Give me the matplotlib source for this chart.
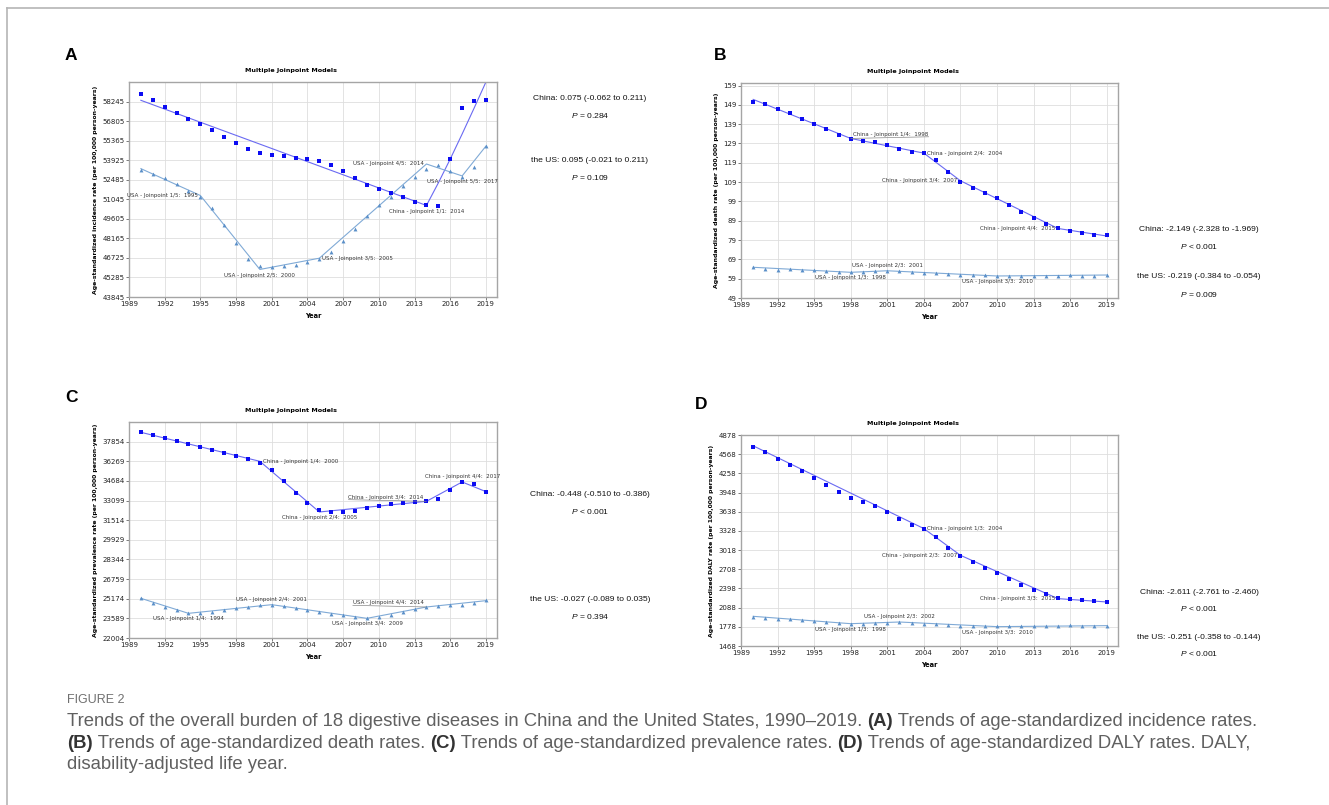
import matplotlib
matplotlib.use("Agg")
import matplotlib.pyplot as plt
from matplotlib.lines import Line2D

years = list(range(1990, 2020))

# ---- A: incidence
inc_china = [58833, 58367, 57853, 57412, 56972, 56604, 56163, 55673, 55184, 54767,
             54498, 54351, 54253, 54106, 54008, 53861, 53567, 53127, 52637, 52147,
             51853, 51535, 51192, 50849, 50604, 50531, 54033, 57829, 58294, 58416]
inc_usa = [53224, 52955, 52612, 52171, 51706, 51241, 50408, 49159, 47812, 46661,
           46098, 46024, 46098, 46221, 46417, 46661, 47151, 47959, 48890, 49845,
           50604, 51265, 52025, 52735, 53298, 53567, 53151, 52735, 53445, 54988]
inc_china_fit_x = [1990, 2014, 2015, 2016, 2017, 2018, 2019]
inc_china_fit = [58367, 50604, 52270, 54033, 55880, 57780, 59720]
inc_usa_fit_x = [1990, 1995, 2000, 2005, 2014, 2017, 2019]
inc_usa_fit = [53322, 51339, 45878, 46710, 53666, 52784, 54988]
inc_ticks = [43845, 45285, 46725, 48165, 49605, 51045, 52485, 53925, 55365, 56805, 58245]

# ---- B: death
dth_china = [150.4, 149.3, 146.9, 144.9, 141.8, 139.0, 136.4, 133.5, 131.3, 130.2,
             130.0, 128.0, 126.1, 124.7, 124.0, 120.6, 114.4, 109.3, 106.2, 103.1,
             100.6, 96.9, 93.5, 90.2, 87.4, 85.0, 83.8, 82.8, 81.8, 81.4]
dth_usa = [64.9, 64.0, 63.7, 63.8, 63.7, 63.5, 62.8, 62.4, 62.3, 62.6,
           62.8, 63.0, 63.0, 62.6, 62.1, 61.9, 61.4, 61.1, 60.9, 60.7,
           60.4, 60.4, 60.4, 60.4, 60.4, 60.6, 60.7, 60.4, 60.6, 60.7]
dth_china_fit_x = [1990, 1998, 2004, 2007, 2015, 2019]
dth_china_fit = [151.8, 131.6, 124.0, 109.7, 85.0, 81.1]
dth_usa_fit_x = [1990, 1998, 2001, 2010, 2019]
dth_usa_fit = [64.9, 62.3, 63.1, 60.4, 60.9]
dth_ticks = [49, 59, 69, 79, 89, 99, 109, 119, 129, 139, 149, 159]

# ---- C: prevalence
prv_china = [38607, 38365, 38123, 37881, 37666, 37450, 37208, 36966, 36724, 36428,
             36132, 35567, 34679, 33710, 32876, 32337, 32176, 32176, 32284, 32472,
             32687, 32849, 32929, 32983, 33037, 33226, 33979, 34598, 34410, 33818]
prv_usa = [25206, 24830, 24507, 24237, 24022, 24022, 24103, 24237, 24399, 24533,
           24641, 24668, 24560, 24399, 24237, 24103, 23968, 23834, 23699, 23619,
           23699, 23861, 24076, 24318, 24507, 24587, 24668, 24668, 24830, 25045]
prv_china_fit_x = [1990, 2000, 2005, 2014, 2017, 2019]
prv_china_fit = [38607, 36266, 32176, 33037, 34598, 33818]
prv_usa_fit_x = [1990, 1994, 2001, 2009, 2014, 2019]
prv_usa_fit = [25206, 23995, 24695, 23592, 24507, 25018]
prv_ticks = [22004, 23589, 25174, 26759, 28344, 29929, 31514, 33099, 34684, 36269, 37854]

# ---- D: DALY
dly_china = [4678, 4608, 4495, 4392, 4290, 4182, 4074, 3955, 3869, 3799,
             3739, 3631, 3524, 3426, 3362, 3238, 3060, 2925, 2822, 2725,
             2644, 2552, 2461, 2374, 2310, 2250, 2223, 2207, 2191, 2180]
dly_usa = [1943, 1921, 1899, 1899, 1889, 1878, 1856, 1840, 1829, 1829,
           1840, 1845, 1851, 1840, 1818, 1818, 1808, 1797, 1797, 1792,
           1786, 1786, 1786, 1786, 1786, 1792, 1802, 1797, 1797, 1792]
dly_china_fit_x = [1990, 2004, 2007, 2015, 2019]
dly_china_fit = [4705, 3367, 2935, 2234, 2180]
dly_usa_fit_x = [1990, 1998, 2002, 2010, 2019]
dly_usa_fit = [1948, 1829, 1856, 1781, 1797]
dly_ticks = [1468, 1778, 2088, 2398, 2708, 3018, 3328, 3638, 3948, 4258, 4568, 4878]

xticks = list(range(1989, 2020, 3))

# joinpoint labels: (series, text, year, placement)
labels_a = [("usa", "USA - Joinpoint 1/5:  1995", 1995, "left"),
            ("usa", "USA - Joinpoint 2/5:  2000", 2000, "below"),
            ("usa", "USA - Joinpoint 3/5:  2005", 2005, "right"),
            ("usa", "USA - Joinpoint 4/5:  2014", 2014, "left"),
            ("usa", "USA - Joinpoint 5/5:  2017", 2017, "below"),
            ("china", "China - Joinpoint 1/1:  2014", 2014, "below")]
labels_b = [("china", "China - Joinpoint 1/4:  1998", 1998, "right_ul"),
            ("china", "China - Joinpoint 2/4:  2004", 2004, "right"),
            ("china", "China - Joinpoint 3/4:  2007", 2007, "left"),
            ("china", "China - Joinpoint 4/4:  2015", 2015, "left"),
            ("usa", "USA - Joinpoint 1/3:  1998", 1998, "below"),
            ("usa", "USA - Joinpoint 2/3:  2001", 2001, "above"),
            ("usa", "USA - Joinpoint 3/3:  2010", 2010, "below")]
labels_c = [("china", "China - Joinpoint 1/4:  2000", 2000, "right"),
            ("china", "China - Joinpoint 2/4:  2005", 2005, "below"),
            ("china", "China - Joinpoint 3/4:  2014", 2014, "left_ul"),
            ("china", "China - Joinpoint 4/4:  2017", 2017, "above"),
            ("usa", "USA - Joinpoint 1/4:  1994", 1994, "below"),
            ("usa", "USA - Joinpoint 2/4:  2001", 2001, "above"),
            ("usa", "USA - Joinpoint 3/4:  2009", 2009, "below"),
            ("usa", "USA - Joinpoint 4/4:  2014", 2014, "left_ul")]
labels_d = [("china", "China - Joinpoint 1/3:  2004", 2004, "right"),
            ("china", "China - Joinpoint 2/3:  2007", 2007, "left"),
            ("china", "China - Joinpoint 3/3:  2015", 2015, "left"),
            ("usa", "USA - Joinpoint 1/3:  1998", 1998, "below"),
            ("usa", "USA - Joinpoint 2/3:  2002", 2002, "above"),
            ("usa", "USA - Joinpoint 3/3:  2010", 2010, "below")]

stats_a = ["China: 0.075 (-0.062 to 0.211)", "$P$ = 0.284", "the US: 0.095 (-0.021 to 0.211)", "$P$ = 0.109"]
stats_b = ["China: -2.149 (-2.328 to -1.969)", "$P$ < 0.001", "the US: -0.219 (-0.384 to -0.054)", "$P$ = 0.009"]
stats_c = ["China: -0.448 (-0.510 to -0.386)", "$P$ < 0.001", "the US: -0.027 (-0.089 to 0.035)", "$P$ = 0.394"]
stats_d = ["China: -2.611 (-2.761 to -2.460)", "$P$ < 0.001", "the US: -0.251 (-0.358 to -0.144)", "$P$ < 0.001"]

W, H = 1329, 805
plt.rcParams['mathtext.fontset'] = 'custom'
plt.rcParams['mathtext.it'] = 'Liberation Sans:italic'
plt.rcParams['mathtext.rm'] = 'Liberation Sans'
fig = plt.figure(figsize=(W / 100, H / 100), dpi=100)

C_CHINA_PT = '#0c0cf2'
C_CHINA_LN = '#6a6af2'
C_USA_PT = '#5a8fc8'
C_USA_LN = '#80aad6'


def px_rect(l, t, r, b):
    return [l / W, 1 - b / H, (r - l) / W, (b - t) / H]


def panel(rect, letter, letter_xy, ylab, ticks, ylim, china, usa, cfx, cf, ufx, uf,
          labels, stats, stat_x, stat_ys, title_x):
    ax = fig.add_axes(px_rect(*rect))
    ax.plot(cfx, cf, color=C_CHINA_LN, lw=0.8, zorder=2)
    ax.plot(ufx, uf, color=C_USA_LN, lw=0.8, zorder=2)
    ax.plot(years, china, ls='none', marker='s', ms=2.7, mew=0, color=C_CHINA_PT, zorder=3)
    ax.plot(years, usa, ls='none', marker='^', ms=2.8, mew=0, color=C_USA_PT, zorder=3)
    ax.set_xlim(1989, 2019.93)
    ax.set_ylim(*ylim)
    ax.set_xticks(xticks)
    ax.set_yticks(ticks)
    ax.tick_params(labelsize=5, length=2, width=0.5, pad=1.2, colors='#444444',
                   labelcolor='#222222')
    ax.grid(True, color='#dedede', lw=0.6)
    ax.set_axisbelow(True)
    for s in ax.spines.values():
        s.set_color('#a5a5a5')
        s.set_linewidth(1.0)
    ax.set_ylabel(ylab, fontsize=4.4, fontweight='bold', labelpad=3)
    ax.set_xlabel("Year", fontsize=4.8, fontweight='bold', labelpad=4)
    ax.text(title_x, 1.055, "Multiple Joinpoint Models", transform=ax.transAxes,
            fontsize=4.6, fontweight='bold', ha='center', va='center')
    fits = {"china": (cfx, cf), "usa": (ufx, uf)}
    for series, txt, yr, place in labels:
        fx, fv = fits[series]
        yv = fv[fx.index(yr)]
        kw = dict(fontsize=4.0, color='#333333', textcoords='offset points',
                  annotation_clip=False)
        if place == "right":
            ax.annotate(txt, (yr, yv), xytext=(2, 0), ha='left', va='center', **kw)
        elif place == "left":
            ax.annotate(txt, (yr, yv), xytext=(-2, 0), ha='right', va='center', **kw)
        elif place == "below":
            ax.annotate(txt, (yr, yv), xytext=(0, -2.2), ha='center', va='top', **kw)
        elif place == "above":
            ax.annotate(txt, (yr, yv), xytext=(0, 2.2), ha='center', va='bottom', **kw)
        elif place == "right_ul":
            ax.annotate(txt, (yr, yv), xytext=(2, 1.2), ha='left', va='bottom',
                        arrowprops=dict(arrowstyle='-', color='#888888', lw=0.5,
                                        relpos=(1, 0), shrinkA=0, shrinkB=0), **kw)
        elif place == "left_ul":
            ax.annotate(txt, (yr, yv), xytext=(-2, 1.2), ha='right', va='bottom',
                        arrowprops=dict(arrowstyle='-', color='#888888', lw=0.5,
                                        relpos=(0, 0), shrinkA=0, shrinkB=0), **kw)
    for s, y in zip(stats, stat_ys):
        fig.text(stat_x / W, 1 - y / H, s, fontsize=6.1, ha='center', va='center',
                 family='Liberation Sans', color='#111111')
    fig.text(letter_xy[0] / W, 1 - letter_xy[1] / H, letter, fontsize=12.5,
             fontweight='bold', ha='center', va='center', family='Liberation Sans')
    return ax


panel((129, 82, 497, 297), "A", (71, 55),
      "Age-standardized incidence rate (per 100,000 person-years)",
      inc_ticks, (43845, 59720), inc_china, inc_usa,
      inc_china_fit_x, inc_china_fit, inc_usa_fit_x, inc_usa_fit,
      labels_a, stats_a, 590, [98, 115, 160, 177], 0.44)
panel((741, 83, 1118, 298), "B", (720, 55),
      "Age-standardized death rate (per 100,000 person-years)",
      dth_ticks, (49, 160.3), dth_china, dth_usa,
      dth_china_fit_x, dth_china_fit, dth_usa_fit_x, dth_usa_fit,
      labels_b, stats_b, 1199, [229, 246, 276, 294], 0.455)
panel((129, 422, 497, 638), "C", (71, 397),
      "Age-standardized prevalence rate (per 100,000 person-years)",
      prv_ticks, (22004, 39440), prv_china, prv_usa,
      prv_china_fit_x, prv_china_fit, prv_usa_fit_x, prv_usa_fit,
      labels_c, stats_c, 590, [494, 511, 599, 616], 0.44)
panel((741, 435, 1118, 646), "D", (701, 404),
      "Age-standardized DALY rate (per 100,000 person-years)",
      dly_ticks, (1468, 4880), dly_china, dly_usa,
      dly_china_fit_x, dly_china_fit, dly_usa_fit_x, dly_usa_fit,
      labels_d, stats_d, 1199, [592, 608, 637, 654], 0.455)

# frame around the figure
fig.add_artist(Line2D([7 / W, 1], [1 - 8.5 / H, 1 - 8.5 / H], color='#b5b5b5', lw=1.2,
                      transform=fig.transFigure))
fig.add_artist(Line2D([7 / W, 7 / W], [0, 1 - 8.5 / H], color='#b5b5b5', lw=1.2,
                      transform=fig.transFigure))

# caption
cap_lines = [
    [("Trends of the overall burden of 18 digestive diseases in China and the United States, 1990\u20132019. ", False),
     ("(A)", True), (" Trends of age-standardized incidence rates.", False)],
    [("(B)", True), (" Trends of age-standardized death rates. ", False), ("(C)", True),
     (" Trends of age-standardized prevalence rates. ", False), ("(D)", True),
     (" Trends of age-standardized DALY rates. DALY,", False)],
    [("disability-adjusted life year.", False)],
]
fig.text(67 / W, 1 - 700 / H, "FIGURE 2", fontsize=9, color='#707070',
         family='Liberation Sans', va='center')
renderer = fig.canvas.get_renderer()
for line, ypx in zip(cap_lines, [721, 743, 764]):
    x = 67
    for txt, bold in line:
        t = fig.text(x / W, 1 - ypx / H, txt, fontsize=13.3, family='Liberation Sans',
                     color='#333333' if bold else '#606060',
                     fontweight='bold' if bold else 'normal', va='center')
        bb = t.get_window_extent(renderer)
        x = bb.x1

fig.savefig("out.png", dpi=100)
